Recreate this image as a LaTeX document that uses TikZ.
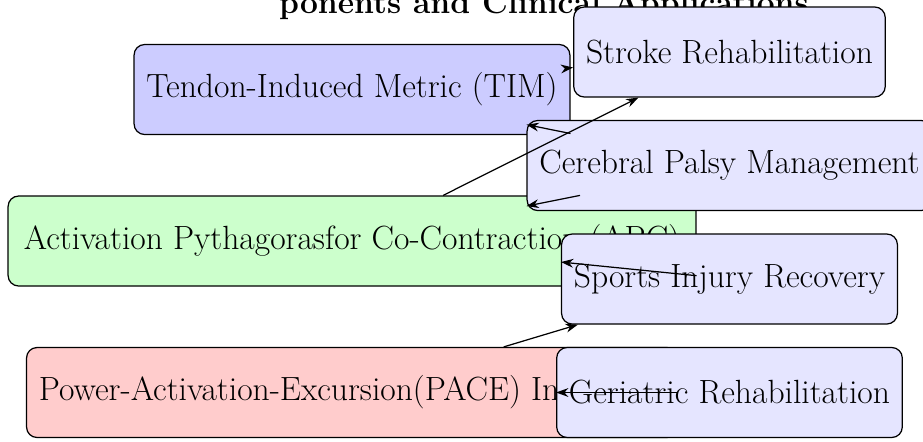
\documentclass[tikz,border=0pt]{standalone}
\usepackage{tikz}
\usetikzlibrary{arrows.meta}
\usetikzlibrary{shapes,arrows}

\begin{document}
\begin{tikzpicture}[node distance=3.03cm, auto]
\tikzstyle{metric} = [ rectangle, draw, fill=blue!20, font=\fontsize{19.1}{23}\selectfont, inner sep=7pt, rounded corners=6pt, minimum height=1.8cm, line width=0.7pt ]
\tikzstyle{app} = [ metric, fill=blue!10 ]
\tikzstyle{line} = [ draw, line width=0.7pt, -{Stealth[length=7pt, width=5pt]} ]
\useasboundingbox (-7.04,1.79) rectangle (11.42,-7.03);
% title
\node [font=\fontsize{18.1}{22}\selectfont\bfseries, anchor=base] (title) at (3.84,1.53) {ponents and Clinical Applications};
% place nodes
\node [metric] (tim) {Tendon-Induced Metric (TIM)};
\node [metric, fill=green!20, inner sep=9pt, below of=tim] (apc) {Activation Pythagorasfor Co-Contraction (APC)};
\node [metric, fill=red!20, below of=apc] (pace) {Power-Activation-Excursion(PACE) Indicators};
\node [app, node distance=7.55cm, right of=pace] (geriatric) {Geriatric Rehabilitation};
\node [app, node distance=2.27cm, above of=geriatric] (sports) {Sports Injury Recovery};
\node [app, node distance=2.27cm, above of=sports] (cerebral) {Cerebral Palsy Management};
\node [app, node distance=2.27cm, above of=cerebral] (stroke) {Stroke Rehabilitation};

% draw edges
\path [line] (tim) -- (stroke) ;
\path [line] (tim) -- (cerebral) ;
\path [line] (apc) -- (stroke) ;
\path [line] (apc) -- (cerebral) ;
\path [line] (apc) -- (sports) ;
\path [line] (pace) -- (sports) ;
\path [line] (pace) -- (geriatric) ;

\end{tikzpicture}
\end{document}
